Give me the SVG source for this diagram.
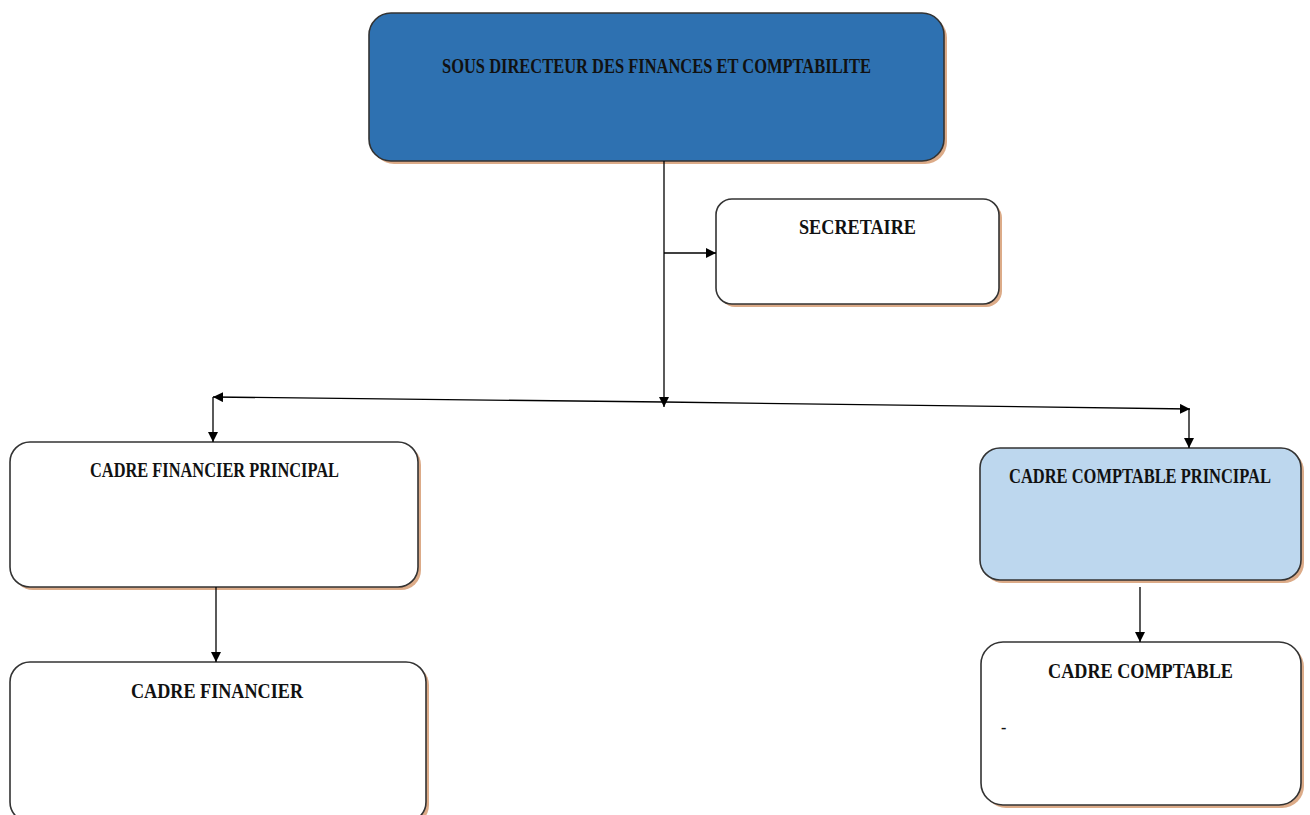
<svg xmlns="http://www.w3.org/2000/svg" width="1310" height="815" viewBox="0 0 1310 815">
<defs>
<marker id="ah" viewBox="0 0 10 10" refX="10" refY="5" markerWidth="10" markerHeight="10" markerUnits="userSpaceOnUse" orient="auto">
<path d="M0,0 L10,5 L0,10 z" fill="#000"/>
</marker>
</defs>
<style>
.sh{fill:#dcab88;stroke:none}
.box{stroke:#333;stroke-width:1.6;fill:#fff}
.t{font-family:"Liberation Serif","Times New Roman",serif;font-weight:bold;font-size:22px;fill:#111}
.c{stroke:#000;stroke-width:1.3;fill:none}
</style>
<rect width="1310" height="815" fill="#fff"/>
<g id="n-sousdirecteur">
<rect class="sh" x="372" y="16" width="575" height="148" rx="22"/>
<rect class="box" x="369" y="13" width="575" height="148" rx="22" style="fill:#2e71b1"/>
<text class="t" x="442" y="73" textLength="429" lengthAdjust="spacingAndGlyphs">SOUS DIRECTEUR DES FINANCES ET COMPTABILITE</text>
</g>
<g id="n-secretaire">
<rect class="sh" x="719" y="202" width="283" height="105" rx="16"/>
<rect class="box" x="716" y="199" width="283" height="105" rx="16"/>
<text class="t" x="799" y="234" textLength="117" lengthAdjust="spacingAndGlyphs">SECRETAIRE</text>
</g>
<g id="n-cfp">
<rect class="sh" x="13" y="445" width="408" height="145" rx="20"/>
<rect class="box" x="10" y="442" width="408" height="145" rx="20"/>
<text class="t" x="90" y="477" textLength="249" lengthAdjust="spacingAndGlyphs">CADRE FINANCIER PRINCIPAL</text>
</g>
<g id="n-ccp">
<rect class="sh" x="983" y="451" width="321" height="132" rx="20"/>
<rect class="box" x="980" y="448" width="321" height="132" rx="20" style="fill:#bdd7ee"/>
<text class="t" x="1009" y="483" textLength="262" lengthAdjust="spacingAndGlyphs">CADRE COMPTABLE PRINCIPAL</text>
</g>
<g id="n-cf">
<rect class="sh" x="13" y="665" width="416" height="160" rx="20"/>
<rect class="box" x="10" y="662" width="416" height="160" rx="20"/>
<text class="t" x="131" y="698" textLength="172" lengthAdjust="spacingAndGlyphs">CADRE FINANCIER</text>
</g>
<g id="n-cc">
<rect class="sh" x="984" y="645" width="320" height="163" rx="22"/>
<rect class="box" x="981" y="642" width="320" height="163" rx="22"/>
<text class="t" x="1048" y="678" textLength="185" lengthAdjust="spacingAndGlyphs">CADRE COMPTABLE</text>
<text class="t" x="1001" y="733" style="font-size:16px">-</text>
</g>
<g id="connectors">
<line class="c" x1="664" y1="161" x2="664" y2="407" marker-end="url(#ah)"/>
<line class="c" x1="664" y1="253" x2="716" y2="253" marker-end="url(#ah)"/>
<line class="c" x1="664" y1="402" x2="213" y2="397" marker-end="url(#ah)"/>
<line class="c" x1="664" y1="402" x2="1190" y2="409" marker-end="url(#ah)"/>
<line class="c" x1="213" y1="397" x2="213" y2="442" marker-end="url(#ah)"/>
<line class="c" x1="1189" y1="409" x2="1189" y2="448" marker-end="url(#ah)"/>
<line class="c" x1="216" y1="587" x2="216" y2="662" marker-end="url(#ah)"/>
<line class="c" x1="1140" y1="587" x2="1140" y2="642" marker-end="url(#ah)"/>
</g>
</svg>
